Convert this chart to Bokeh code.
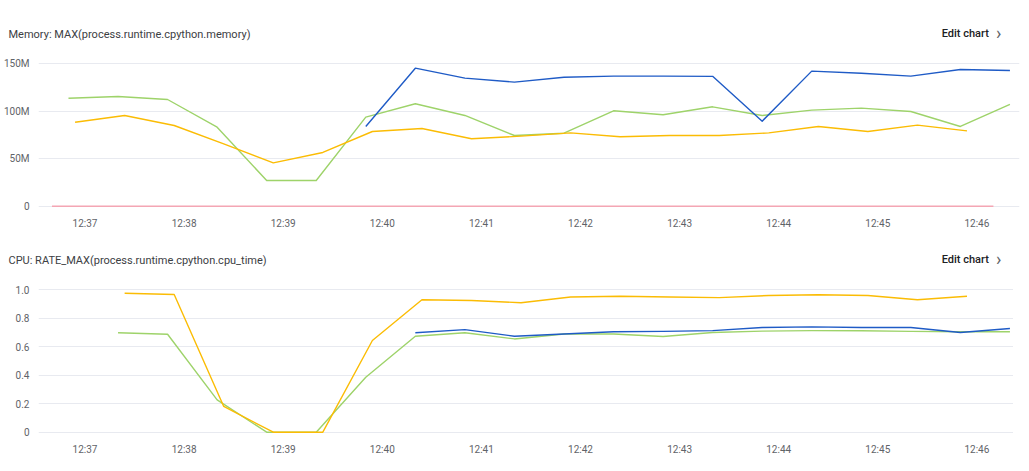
import pandas as pd
from datetime import datetime
from bokeh.plotting import figure
from bokeh.layouts import column
from bokeh.models import Range1d, FixedTicker, DatetimeTickFormatter, Div
from bokeh.embed import file_html
from bokeh.resources import INLINE

DAY = "2024-01-01 "

# ---------------- data ----------------
# sample times (main grid, used by green / blue series)
t_main = ["12:36:50", "12:37:20", "12:37:50", "12:38:20", "12:38:50",
          "12:39:20", "12:39:50", "12:40:20", "12:40:50", "12:41:20",
          "12:41:50", "12:42:20", "12:42:50", "12:43:20", "12:43:50",
          "12:44:20", "12:44:50", "12:45:20", "12:45:50", "12:46:20"]
# sample times of the yellow series
t_yellow = ["12:36:54", "12:37:24", "12:37:54", "12:38:24", "12:38:54",
            "12:39:24", "12:39:54", "12:40:24", "12:40:54", "12:41:24",
            "12:41:54", "12:42:24", "12:42:54", "12:43:24", "12:43:54",
            "12:44:24", "12:44:54", "12:45:24", "12:45:54"]
# sample times of the red series
t_red = ["12:36:40", "12:37:10", "12:37:40", "12:38:10", "12:38:40",
         "12:39:10", "12:39:40", "12:40:10", "12:40:40", "12:41:10",
         "12:41:40", "12:42:10", "12:42:40", "12:43:10", "12:43:40",
         "12:44:10", "12:44:40", "12:45:10", "12:45:40", "12:46:10"]

# Memory (M)
mem_green = [113.8, 115.6, 112.4, 83.2, 27.1, 27.1, 93.8, 107.9, 95.6, 74.5,
             76.9, 100.5, 96.3, 104.7, 95.6, 101.2, 103.3, 99.8, 84.0, 107.2]
mem_blue = [84.0, 145.4, 134.9, 130.7, 135.9, 137.0, 137.0, 136.8, 89.6,
            142.3, 140.1, 137.0, 144.0, 143.0]          # from t_main[6:]
mem_yellow = [88.5, 95.6, 85.0, 65.7, 45.7, 56.6, 78.7, 81.9, 71.0, 73.8,
              77.3, 73.1, 74.5, 74.5, 77.3, 84.0, 78.7, 85.4, 79.4]
mem_red = [0] * 20

# CPU
cpu_yellow = [0.976, 0.967, 0.181, 0.0, 0.0, 0.644, 0.93, 0.925, 0.909,
              0.949, 0.955, 0.949, 0.945, 0.96, 0.965, 0.96, 0.93, 0.955]  # t_yellow[1:]
cpu_green = [0.698, 0.688, 0.227, 0.0, 0.0, 0.386, 0.674, 0.698, 0.655,
             0.69, 0.69, 0.672, 0.70, 0.71, 0.713, 0.712, 0.708, 0.705, 0.705]  # t_main[1:]
cpu_blue = [0.698, 0.72, 0.674, 0.69, 0.705, 0.708, 0.713, 0.735, 0.74,
            0.735, 0.735, 0.70, 0.728]   # t_main[7:]

x_tick_labels = ["12:37", "12:38", "12:39", "12:40", "12:41",
                 "12:42", "12:43", "12:44", "12:45", "12:46"]
mem_ticks = [0, 50, 100, 150]
mem_tick_labels = ["0", "50M", "100M", "150M"]
cpu_ticks = [0, 0.2, 0.4, 0.6, 0.8, 1.0]
cpu_tick_labels = ["0", "0.2", "0.4", "0.6", "0.8", "1.0"]

titles = ["Memory: MAX(process.runtime.cpython.memory)",
          "CPU: RATE_MAX(process.runtime.cpython.cpu_time)"]
edit_text = "Edit chart"

# ---------------- styles ----------------
BLUE = "#1f5bc6"
GREEN = "#9ed36a"
YELLOW = "#fbbc04"
PINK = "#f4a6b4"
GRID = "#e8eaf0"
TEXT = "#3c4043"
AXIS_TEXT = "#5f6368"
W = 1013


def ts(lst):
    return [pd.Timestamp(DAY + s) for s in lst]


x_start = datetime(2024, 1, 1, 12, 36, 31, 850000)
x_end = datetime(2024, 1, 1, 12, 46, 25, 790000)
tick_ms = [pd.Timestamp(DAY + s + ":00").value // 10**6 for s in x_tick_labels]


def make_header(title, h, top_title, top_edit, top_chev):
    html = (
        f'<div style="position:relative;width:{W}px;height:{h}px;font-family:Roboto,sans-serif;">'
        f'<span style="position:absolute;left:8.5px;top:{top_title}px;font-size:11px;'
        f'line-height:14px;color:{TEXT};white-space:nowrap;">{title}</span>'
        f'<span style="position:absolute;left:941.7px;top:{top_edit}px;font-size:11px;'
        f'line-height:14px;font-weight:500;color:#202124;white-space:nowrap;">{edit_text}</span>'
        f'<span style="position:absolute;left:996px;top:{top_chev}px;font-size:18px;'
        f'line-height:18px;color:{AXIS_TEXT};white-space:nowrap;">&#8250;</span>'
        f'</div>'
    )
    return Div(text=html, width=W, height=h, margin=0)


def make_fig(ymin, ymax, min_top, frame_h, min_bottom):
    p = figure(x_axis_type="datetime", output_backend="svg", toolbar_location=None,
               frame_width=981, frame_height=frame_h,
               min_border_left=29, min_border_right=3,
               min_border_top=min_top, min_border_bottom=min_bottom,
               x_range=Range1d(x_start, x_end), y_range=Range1d(ymin, ymax),
               background_fill_color="white", border_fill_color="white")
    p.outline_line_color = None
    p.xgrid.grid_line_color = None
    p.ygrid.grid_line_color = GRID
    p.ygrid.grid_line_width = 1
    for ax in (p.xaxis[0], p.yaxis[0]):
        ax.axis_line_color = None
        ax.major_tick_line_color = None
        ax.minor_tick_line_color = None
        ax.major_label_text_font = "Roboto"
        ax.major_label_text_font_size = "10px"
        ax.major_label_text_color = AXIS_TEXT
    p.yaxis[0].major_label_standoff = 3
    p.xaxis[0].major_label_standoff = 4
    p.xaxis[0].ticker = FixedTicker(ticks=tick_ms)
    p.xaxis[0].formatter = DatetimeTickFormatter(
        seconds="%H:%M", minsec="%H:%M", minutes="%H:%M",
        hourmin="%H:%M", hours="%H:%M")
    return p


LW = 1.4

# ---------- Memory chart ----------
h1 = make_header(titles[0], 46, 27.7, 27.2, 24.2)
p1 = make_fig(-1.37, 155.6, 12, 149, 31)
p1.yaxis[0].ticker = FixedTicker(ticks=mem_ticks)
p1.yaxis[0].major_label_overrides = {t: l for t, l in zip(mem_ticks, mem_tick_labels)}
p1.line(ts(t_red), mem_red, line_color=PINK, line_width=LW)
p1.line(ts(t_main), mem_green, line_color=GREEN, line_width=LW, line_join="round")
p1.line(ts(t_yellow), mem_yellow, line_color=YELLOW, line_width=LW, line_join="round")
p1.line(ts(t_main[6:]), mem_blue, line_color=BLUE, line_width=LW, line_join="round")

# ---------- CPU chart ----------
h2 = make_header(titles[1], 30, 16, 15.3, 12.2)
p2 = make_fig(-0.0091, 1.0302, 17, 148, 22)
p2.yaxis[0].ticker = FixedTicker(ticks=cpu_ticks)
p2.yaxis[0].major_label_overrides = {t: l for t, l in zip(cpu_ticks, cpu_tick_labels)}
p2.line(ts(t_main[1:]), cpu_green, line_color=GREEN, line_width=LW, line_join="round")
p2.line(ts(t_yellow[1:]), cpu_yellow, line_color=YELLOW, line_width=LW, line_join="round")
p2.line(ts(t_main[7:]), cpu_blue, line_color=BLUE, line_width=LW, line_join="round")

layout = column(h1, p1, h2, p2, spacing=0)
open("out.html", "w").write(file_html(layout, INLINE))
